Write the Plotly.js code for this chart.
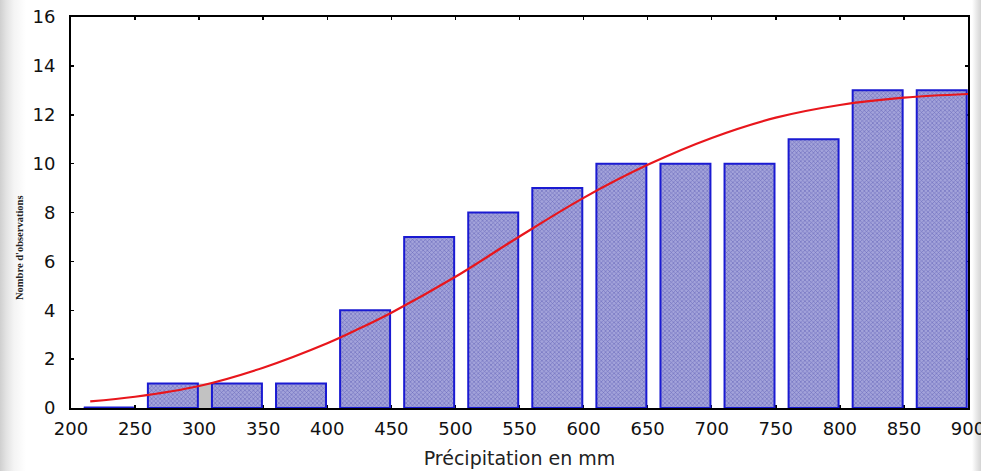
<!DOCTYPE html>
<html>
<head>
<meta charset="utf-8">
<script src="https://cdn.plot.ly/plotly-3.0.1.min.js"></script>
<style>
  html, body { margin: 0; padding: 0; }
  body {
    width: 981px; height: 471px; overflow: hidden;
    background: linear-gradient(to right, #cfcfcf 0px, #e2e2e2 6px, #f4f4f4 14px, #ffffff 26px, #ffffff 972px, #e6e6e6 977px, #d4d4d4 981px);
  }
  #chart { width: 981px; height: 471px; }
</style>
</head>
<body>
<div id="chart"></div>
<script>
// ---- data ----
const binStart = [200, 250, 300, 350, 400, 450, 500, 550, 600, 650, 700, 750, 800, 850];
const counts   = [0, 1, 1, 1, 4, 7, 8, 9, 10, 10, 10, 11, 13, 13];

const curveX = [215, 250, 300, 350, 400, 425, 450, 500, 550, 600, 650, 700, 750, 800, 850, 900];
const curveY = [0.27, 0.46, 0.90, 1.65, 2.65, 3.25, 3.9, 5.37, 7.02, 8.6, 9.95, 11.05, 11.88, 12.4, 12.7, 12.85];

const grayX = [304];
const grayY = [1];

const xTickVals = [200, 250, 300, 350, 400, 450, 500, 550, 600, 650, 700, 750, 800, 850, 900];
const yTickVals = [0, 2, 4, 6, 8, 10, 12, 14, 16];

const xTitle = 'Précipitation en mm';
const yTitle = "Nombre d'observations";

// ---- derived ----
const binWidth = 50;
const barWidth = 39;
const barOffset = -15;
const mids = binStart.map(s => s + binWidth / 2);

const traces = [];

traces.push({
  type: 'bar',
  x: grayX, y: grayY, width: 11,
  marker: { color: '#c2c2c2', line: { width: 0 } },
  hoverinfo: 'skip', showlegend: false
});

traces.push({
  type: 'bar',
  x: mids, y: counts,
  width: barWidth, offset: barOffset,
  marker: {
    color: '#9a9ad4',
    line: { color: '#1a1ad2', width: 2 },
    pattern: { shape: 'x', size: 3, solidity: 0.35, fgcolor: '#6b6bbd', bgcolor: '#a3a3da' }
  },
  showlegend: false
});

// empty bins are drawn as a flat outline on the baseline
counts.forEach((c, i) => {
  if (c === 0) {
    const x0 = mids[i] + barOffset;
    traces.push({
      type: 'scatter', mode: 'lines',
      x: [x0, x0 + barWidth], y: [0, 0],
      line: { color: '#1a1ad2', width: 3 },
      hoverinfo: 'skip', showlegend: false, cliponaxis: false
    });
  }
});

traces.push({
  type: 'scatter', mode: 'lines',
  x: curveX, y: curveY,
  line: { color: '#e8161c', width: 2.2, shape: 'spline', smoothing: 1 },
  showlegend: false
});

const tickFont = { family: 'DejaVu Sans, Arial, sans-serif', size: 18, color: '#111' };

const layout = {
  width: 981, height: 471,
  margin: { l: 71, r: 13, t: 17, b: 63, pad: 0 },
  paper_bgcolor: 'rgba(0,0,0,0)',
  plot_bgcolor: '#ffffff',
  barmode: 'overlay',
  xaxis: {
    range: [200, 900],
    tickvals: xTickVals,
    ticktext: xTickVals.map(String),
    ticks: 'inside', ticklen: 3, tickwidth: 1.5, tickcolor: '#000',
    showline: true, linecolor: '#000', linewidth: 2, mirror: 'ticks',
    showgrid: false, zeroline: false,
    tickfont: tickFont,
    ticklabelstandoff: 3,
    ticklabeloverflow: 'allow',
    layer: 'below traces',
    title: { text: xTitle, font: { family: 'DejaVu Sans, Arial, sans-serif', size: 19, color: '#222' }, standoff: 14 }
  },
  yaxis: {
    range: [0, 16],
    tickvals: yTickVals,
    ticks: 'inside', ticklen: 3, tickwidth: 1.5, tickcolor: '#000',
    showline: true, linecolor: '#000', linewidth: 2, mirror: 'ticks',
    showgrid: false, zeroline: false,
    tickfont: tickFont,
    ticklabelstandoff: 10,
    ticklabeloverflow: 'allow',
    layer: 'below traces'
  },
  annotations: [{
    text: '<b>' + yTitle + '</b>',
    xref: 'paper', yref: 'paper',
    x: (19 - 71) / 897, y: (408 - 248) / 391,
    xanchor: 'center', yanchor: 'middle',
    textangle: -90, showarrow: false,
    font: { family: 'Liberation Serif, Times New Roman, serif', size: 10.5, color: '#222' }
  }]
};

Plotly.newPlot('chart', traces, layout, { displayModeBar: false, staticPlot: true });
</script>
</body>
</html>
